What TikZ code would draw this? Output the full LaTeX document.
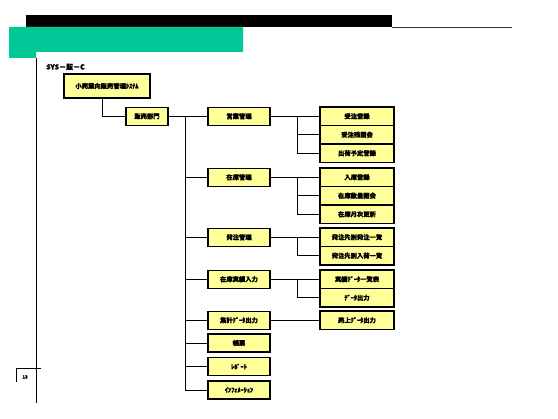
\documentclass[tikz,border=0pt]{standalone}
\usepackage{fontspec}
\setmainfont{Noto Sans CJK JP}[BoldFeatures={FakeBold=1.5}]
\definecolor{hdrgreen}{RGB}{0,201,151}
\definecolor{boxyellow}{RGB}{255,255,153}
\begin{document}
\begin{tikzpicture}[x=1pt,y=-1pt,
  box/.style={draw=black,line width=1.1pt,fill=boxyellow,inner sep=0pt,
    font=\fontsize{6.3}{7}\selectfont\bfseries},
  lvtwo/.style={box,minimum width=62pt,minimum height=18pt},
  lvthree/.style={box,minimum width=74pt,minimum height=18.5pt},
  conn/.style={draw=black,line width=0.9pt}]
\useasboundingbox (0,0) rectangle (558,419);
% header
\fill[black] (26,15) rectangle (392,27);
\draw[line width=0.8pt,black!80] (392,27) -- (512,27);
\fill[hdrgreen] (9,27) -- (243,27) -- (243,52) -- (36,52) -- (36,58) -- (9,58) -- cycle;
\draw[line width=0.9pt] (36,58) -- (36,403);
% page corner
\draw[line width=0.9pt] (16,382) -- (16,368) -- (41,368);
\node[font=\fontsize{4.5}{5}\selectfont\bfseries] (pg) at (25,377) {13};
% title
\node[anchor=west,font=\fontsize{7}{8}\selectfont\bfseries,inner sep=0pt] (title) at (46,67) {SYS－販－C};
% top
\node[box,minimum width=86pt,minimum height=24pt] (top) at (107,86) {小売業向販売管理ｼｽﾃﾑ};
\node[box,minimum width=42pt,minimum height=18pt] (dept) at (147,116.25) {販売部門};
% level 2
\node[lvtwo] (a) at (239,116.25) {営業管理};
\node[lvtwo] (b) at (239,177.25) {在庫管理};
\node[lvtwo] (c) at (239,237.25) {発注管理};
\node[lvtwo] (d) at (239,279.25) {在庫実績入力};
\node[lvtwo] (e) at (239,320.25) {集計ﾃﾞｰﾀ出力};
\node[lvtwo] (f) at (239,343) {帳票};
\node[lvtwo] (g) at (239,366.5) {ﾚﾎﾟｰﾄ};
\node[lvtwo] (h) at (239,390) {ｲﾝﾌｫﾒｰｼｮﾝ};
% level 3
\node[lvthree] (a1) at (357,116.25) {受注登録};
\node[lvthree] (a2) at (357,134.75) {受注残照会};
\node[lvthree] (a3) at (357,153.25) {出荷予定登録};
\node[lvthree] (b1) at (357,177.25) {入庫登録};
\node[lvthree] (b2) at (357,195.75) {在庫数量照会};
\node[lvthree] (b3) at (357,214.25) {在庫月次更新};
\node[lvthree] (c1) at (357,237.25) {発注先別発注一覧};
\node[lvthree] (c2) at (357,255.75) {発注先別入荷一覧};
\node[lvthree] (d1) at (357,279.25) {実績ﾃﾞｰﾀ一覧表};
\node[lvthree] (d2) at (357,297.75) {ﾃﾞｰﾀ出力};
\node[lvthree] (e1) at (357,320.25) {売上ﾃﾞｰﾀ出力};
% connectors
\coordinate (topx) at (102,0);
\draw[conn] (topx |- top.south) |- (dept.west);
\draw[conn] (dept.east) -- (a.west);
\coordinate (spine) at (185,0);
\draw[conn] (spine |- a.west) -- (spine |- h.west);
\foreach \n in {b,c,d,e,f,g,h} {\draw[conn] (spine |- \n.west) -- (\n.west);}
\coordinate (jx) at (297,0);
\draw[conn] (a.east) -- (a1.west);
\draw[conn] (jx |- a.east) |- (a2.west);
\draw[conn] (jx |- a.east) |- (a3.west);
\draw[conn] (b.east) -- (b1.west);
\draw[conn] (jx |- b.east) |- (b2.west);
\draw[conn] (jx |- b.east) |- (b3.west);
\draw[conn] (c.east) -- (c1.west);
\draw[conn] (jx |- c.east) |- (c2.west);
\draw[conn] (d.east) -- (d1.west);
\draw[conn] (jx |- d.east) |- (d2.west);
\draw[conn] (e.east) -- (e1.west);
\end{tikzpicture}
\end{document}
